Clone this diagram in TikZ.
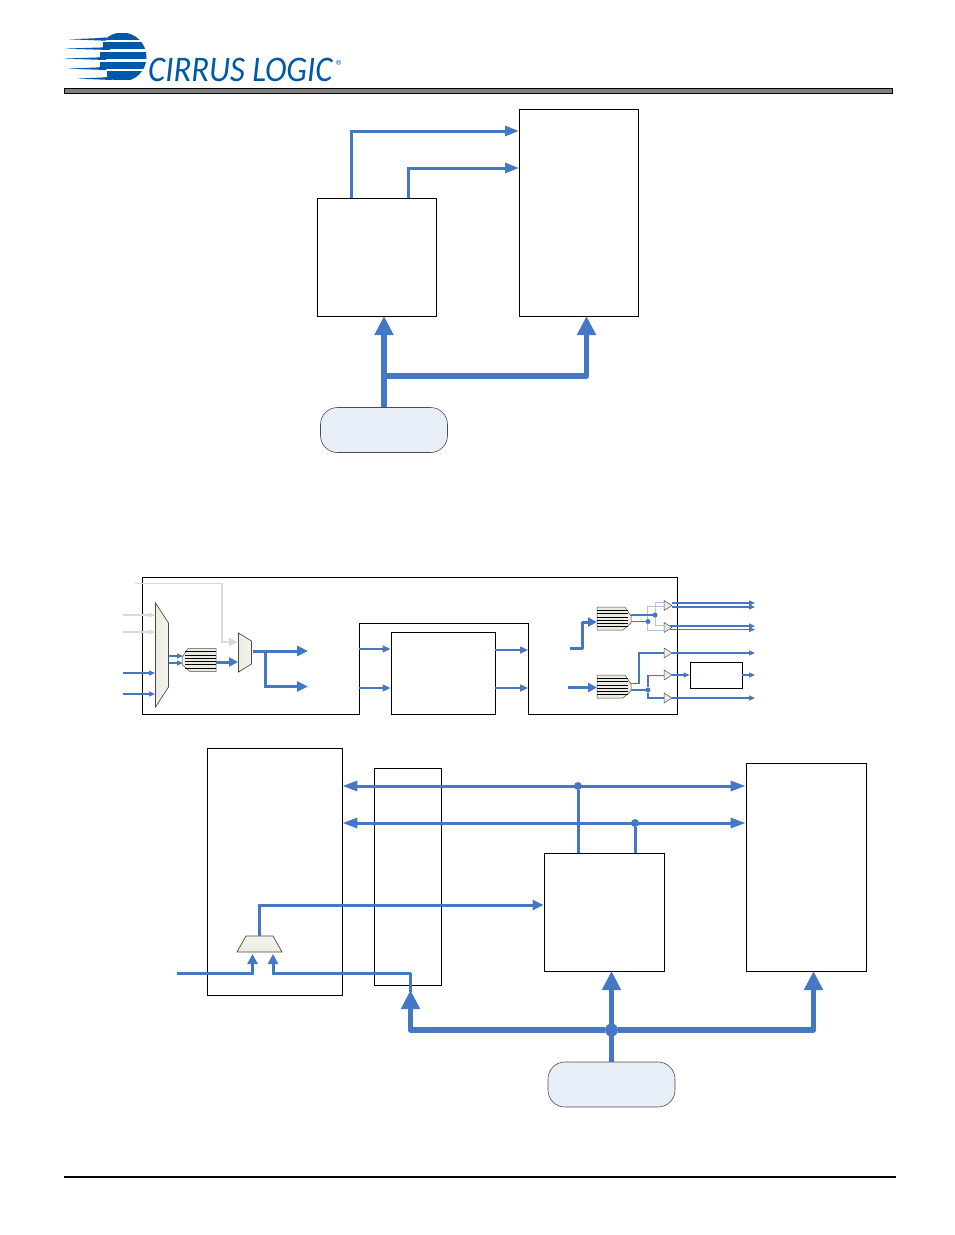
\documentclass[tikz,border=0pt]{standalone}
\usepackage{fontspec}
\newfontfamily\logofont[ItalicFont=Carlito Italic]{Carlito}
\newfontfamily\markfont{DejaVu Sans}
\usetikzlibrary{arrows.meta}
\definecolor{busblue}{RGB}{68,120,196}
\definecolor{logoblue}{RGB}{0,88,168}
\definecolor{palefill}{RGB}{232,238,248}
\definecolor{wirepale}{RGB}{176,196,232}
\definecolor{muxfill}{RGB}{236,236,224}
\tikzset{
	blockbox/.style={draw=black,line width=0.8pt,fill=white,inner sep=0pt},
	pillbox/.style={draw=black!70,line width=0.6pt,fill=palefill,rounded corners=17pt,minimum width=127pt,minimum height=45pt},
	wirethin/.style={busblue,line width=1.1pt,-{Triangle[length=6pt,width=5pt]}},
	wireplain/.style={busblue,line width=1.2pt},
	wiregray/.style={black!15,line width=1.1pt,-{Triangle[length=6pt,width=5pt]}},
	busmid/.style={busblue,line width=3pt,-{Triangle[length=11pt,width=10pt]}},
	busboth/.style={busblue,line width=3pt,{Triangle[length=15pt,width=10pt]}-{Triangle[length=15pt,width=10pt]}},
	busfat/.style={busblue,line width=5.5pt,line join=round,-{Triangle[length=19pt,width=18pt]}},
	jointdot/.style={circle,fill=busblue,inner sep=0pt,minimum size=#1},
	muxshape/.style={draw=black!70,line width=0.7pt,left color=muxfill,right color=muxfill!60!white},
	bufshape/.style={draw=black!70,line width=0.5pt,fill=muxfill},
	regbank/.pic={
		\path[draw=black!70,line width=0.5pt,fill=muxfill] (0,0)--(28,0)--(34,9)--(34,16)--(26,23)--(0,23)--cycle;
		\foreach \yy in {3,6.5,10,13,16,19.5}
			\draw[black,line width=1pt] (0,\yy)--(31,\yy);
	},
	bufpic/.pic={\path[bufshape] (0,-5)--(8,0)--(0,5)--cycle;},
}
\begin{document}
\begin{tikzpicture}[x=1pt,y=-1pt]
	\useasboundingbox (0,0) rectangle (954,1235);
	% logo
	\begin{scope}
		\clip (122,57) circle (24.5);
		\foreach \ya/\yb/\xa in {33/40/100,41.7/49.3/103,51.7/59.3/100,61.7/69.3/100,70.7/80/107}
			\fill[logoblue] (\xa,\ya) rectangle (150,\yb);
	\end{scope}
	\foreach \yy/\xa/\xb in {40/69/106,49.3/64/110,59.3/63/106,69.3/67/106,79.3/77/112}
		\fill[logoblue] (\xa,\yy-0.7)--(\xb-10,\yy-1.8)--(\xb,\yy-2.6)--(\xb,\yy+0.7)--cycle;
	\node[logoblue,anchor=west,inner sep=0pt,xscale=0.91] (logotext) at (148,69.5) {\fontsize{36}{36}\logofont\itshape CIRRUS LOGIC};
	\node[logoblue,anchor=west,inner sep=0pt] (logomark) at (335,62.5) {\fontsize{7}{7}\selectfont\markfont ®};
	% header and footer rules
	\draw[black,line width=0.8pt,fill=black!50] (64,88.5) rectangle (892,93);
	\draw[black,line width=1.5pt] (64,1177)--(896,1177);

	% top group
	\node[blockbox,minimum width=119pt,minimum height=118pt] (ctrlA) at (377,257) {};
	\node[blockbox,minimum width=119pt,minimum height=207pt] (memA) at (579,212.5) {};
	\node[pillbox] (clockA) at (384,430) {};
	\coordinate (tapA) at (351,198);
	\coordinate (tapB) at (408,198);
	\coordinate (headA) at (519,131);
	\coordinate (headB) at (519,168);
	\coordinate (forkA) at (384,376);
	\coordinate (footA) at (384,316);
	\coordinate (footB) at (586.5,316);
	\draw[busmid,-{Triangle[length=14pt,width=10pt]}] (tapA) |- (headA);
	\draw[busmid,-{Triangle[length=14pt,width=10pt]}] (tapB) |- (headB);
	\draw[busfat] (clockA.north) -- (footA);
	\draw[busfat] (forkA) -| (footB);

	% middle group
	\draw[black,line width=0.8pt] (142,577)--(677,577)--(677,714)--(528,714)--(528,623)--(359,623)--(359,714)--(142,714)--cycle;
	\node[blockbox,minimum width=104pt,minimum height=82pt] (coreM) at (443,673) {};
	\coordinate (lInA) at (359,649);
	\coordinate (lInB) at (359,688);
	\coordinate (rOutA) at (528,650);
	\coordinate (rOutB) at (528,688);
	\draw[busmid,line width=1.5pt,-{Triangle[length=8pt,width=7pt]}] (lInA) -- (lInA -| coreM.west);
	\draw[busmid,line width=1.5pt,-{Triangle[length=8pt,width=7pt]}] (lInB) -- (lInB -| coreM.west);
	\draw[busmid,line width=1.5pt,-{Triangle[length=8pt,width=7pt]}] (rOutA -| coreM.east) -- (rOutA);
	\draw[busmid,line width=1.5pt,-{Triangle[length=8pt,width=7pt]}] (rOutB -| coreM.east) -- (rOutB);
	% left muxes
	\path[muxshape] (155.5,603)--(168.5,623)--(168.5,687)--(155.5,707)--cycle;
	\path[muxshape] (238.5,633)--(251.5,641)--(251.5,664)--(238.5,672)--cycle;
	\coordinate (grayA) at (135,583.5);
	\coordinate (grayB) at (238,642);
	\draw[black!15,line width=1.8pt,-{Triangle[length=9pt,width=8pt]}] (grayA) -| (222,642) -- (grayB);
	\foreach \yy in {615,632}
		\draw[wiregray] (123,\yy) -- (155,\yy);
	\foreach \yy in {673,694}
		\draw[wirethin] (123,\yy) -- (155,\yy);
	\foreach \yy in {656,663}
		\draw[wirethin] (168.5,\yy) -- (183,\yy);
	\pic[xscale=-1] at (216,648.5) {regbank};
	\draw[busmid,-{Triangle[length=9pt,width=9pt]}] (216,662) -- (238,662);
	\coordinate (outMuxA) at (253,651);
	\coordinate (outHeadA) at (308,651);
	\coordinate (outHeadB) at (308,686.5);
	\draw[busmid] (outMuxA) -- (outHeadA);
	\draw[busmid] (265.5,651) |- (outHeadB);
	% right registers and drivers
	\pic at (597,607) {regbank};
	\pic at (597,675) {regbank};
	\coordinate (dinA) at (570,648);
	\coordinate (dinB) at (568,687.5);
	\draw[busmid,line join=round,-{Triangle[length=9pt,width=9pt]}] (dinA) -- (582,648) -- (582,622) -- (597,622);
	\draw[busmid,-{Triangle[length=9pt,width=9pt]}] (dinB) -- (597,687.5);
	\draw[wirepale,line width=0.7pt] (664,606) -- (647.5,606) -- (647.5,630) -- (664,630);
	\draw[wirepale,line width=0.7pt] (664,602.5) -- (655,602.5) -- (655,625) -- (664,625);
	\draw[wireplain] (631,615) -- (655,615);
	\draw[wireplain] (631,621.5) -- (648,621.5);
	\node[jointdot=5pt] (dotA) at (655,615) {};
	\node[jointdot=5pt] (dotB) at (648,621.5) {};
	\draw[wireplain] (631,683.5) -- (639,683.5) -- (639,653) -- (664,653);
	\draw[wireplain] (631,690) -- (648,690);
	\node[jointdot=5pt] (dotC) at (648,690) {};
	\draw[wireplain] (dotC) |- (664,675.5);
	\draw[wireplain] (dotC) |- (664,698);
	\foreach \xx/\yy in {664/605.5,664/627.5,664/653,664/675,664/698}
		\pic at (\xx,\yy) {bufpic};
	\node[blockbox,minimum width=52pt,minimum height=26pt] (latchR) at (716,675) {};
	\draw[wirethin] (672,675) -- (latchR.west);
	\draw[wirethin] (latchR.east) -- (755,675);
	\foreach \xa/\ya/\yb in {672/603/755,672/607/755,670/626/755,670/629.5/755,672/653/755,672/698/755}
		\draw[wirethin] (\xa,\ya) -- (\yb,\ya);

	% bottom group
	\node[blockbox,minimum width=135pt,minimum height=247pt] (procB) at (274.5,871.5) {};
	\node[blockbox,minimum width=67pt,minimum height=217pt] (xbarB) at (407.5,876.5) {};
	\node[blockbox,minimum width=120pt,minimum height=118pt] (ctrlB) at (604,912) {};
	\node[blockbox,minimum width=120pt,minimum height=208pt] (memB) at (806,867) {};
	\node[pillbox] (clockB) at (611.5,1084.5) {};
	\node[jointdot=8pt] (dotD) at (578,786) {};
	\node[jointdot=8pt] (dotE) at (635,823) {};
	\draw[busboth] (procB.east |- dotD) -- (memB.west |- dotD);
	\draw[busboth] (procB.east |- dotE) -- (memB.west |- dotE);
	\draw[busblue,line width=3pt] (dotD) -- (dotD |- ctrlB.north);
	\draw[busblue,line width=3pt] (dotE) -- (dotE |- ctrlB.north);
	\path[draw=black!70,line width=0.7pt,top color=muxfill!60!white,bottom color=muxfill] (237,952)--(246,936)--(273,936)--(282,952)--cycle;
	\coordinate (muxTop) at (259,936);
	\coordinate (muxInA) at (252.5,954);
	\coordinate (muxInB) at (273,954);
	\coordinate (feedA) at (177,973);
	\coordinate (feedB) at (410.5,973);
	\draw[busmid,-{Triangle[length=11pt,width=10pt]}] (muxTop) |- (ctrlB.west |- 0,905);
	\draw[busmid,-{Triangle[length=10pt,width=10pt]}] (feedA) -- (252.5,973) -- (muxInA);
	\draw[busmid,-{Triangle[length=10pt,width=10pt]}] (feedB) -- (273,973) -- (muxInB);
	\draw[busblue,line width=3pt] (feedB) -- (410.5,992);
	\coordinate (footC) at (410.5,990);
	\coordinate (footD) at (813.5,971);
	\coordinate (footE) at (611.5,971);
	\node[jointdot=13pt] (dotF) at (611.5,1030) {};
	\draw[busfat] (clockB.north) -- (footE);
	\draw[busfat] (dotF) -| (footC);
	\draw[busfat] (dotF) -| (footD);
\end{tikzpicture}
\end{document}
